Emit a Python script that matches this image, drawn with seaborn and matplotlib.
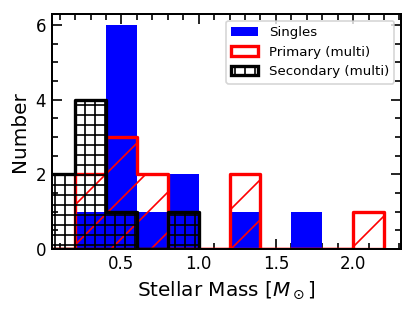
import numpy as np
import matplotlib
matplotlib.use("Agg")
import matplotlib.pyplot as plt
import matplotlib.patches as mpatches
from matplotlib.ticker import MultipleLocator
import seaborn as sns

# histogram bins (stellar mass, solar masses) and counts
mass_bins = [0.0, 0.2, 0.4, 0.6, 0.8, 1.0, 1.2, 1.4, 1.6, 1.8, 2.0, 2.2]
singles_counts = [0, 1, 6, 1, 2, 0, 1, 0, 1, 0, 0]
primary_counts = [0, 2, 3, 2, 0, 0, 2, 0, 0, 0, 1]
secondary_bins = [0.0, 0.2, 0.4, 0.6, 0.8, 1.0]
secondary_counts = [2, 4, 1, 0, 1]

labels = ["Singles", "Primary (multi)", "Secondary (multi)"]


def centers(edges):
    e = np.asarray(edges)
    return (e[:-1] + e[1:]) / 2


sns.set_style("ticks", {"xtick.direction": "in", "ytick.direction": "in",
                        "axes.edgecolor": "black", "text.color": "black",
                        "axes.labelcolor": "black", "xtick.color": "black",
                        "ytick.color": "black"})
plt.rcParams["font.family"] = ["DejaVu Sans"]
plt.rcParams["hatch.linewidth"] = 1.0

fig = plt.figure(figsize=(415 / 120, 311 / 120), dpi=120)
ax = fig.add_axes([0.1253, 0.1994, 0.841, 0.7556])

# singles: plain filled bars
sns.histplot(x=centers(mass_bins), weights=singles_counts, bins=mass_bins,
             element="bars", color="blue", alpha=1, linewidth=0, ax=ax)

# primary: red step outline with diagonal hatch
sns.histplot(x=centers(mass_bins), weights=primary_counts, bins=mass_bins,
             element="step", fill=True, color="red", facecolor="none", edgecolor="red",
             linewidth=2, hatch="/", ax=ax)

# secondary: black step outline with grid hatch
sns.histplot(x=centers(secondary_bins), weights=secondary_counts, bins=secondary_bins,
             element="step", fill=True, color="black", facecolor="none", edgecolor="black",
             linewidth=2, hatch="++", ax=ax)

ax.set_xlim(0.05, 2.31)
ax.set_ylim(0, 6.3)
ax.set_xlabel(r"Stellar Mass [$M_\odot$]", fontsize=12)
ax.set_ylabel("Number", fontsize=12)

ax.xaxis.set_major_locator(MultipleLocator(0.5))
ax.xaxis.set_minor_locator(MultipleLocator(0.1))
ax.yaxis.set_major_locator(MultipleLocator(2))
ax.yaxis.set_minor_locator(MultipleLocator(0.5))
ax.tick_params(which="both", direction="in", top=True, right=True, labelsize=10,
               width=1, colors="black")
ax.tick_params(which="major", length=6)
ax.tick_params(which="minor", length=3.5)
for s in ax.spines.values():
    s.set_linewidth(1.2)
    s.set_color("black")
    s.set_zorder(5)

handles = [
    mpatches.Patch(facecolor="blue", edgecolor="none", label=labels[0]),
    mpatches.Patch(facecolor="white", edgecolor="red", hatch="/", linewidth=2, label=labels[1]),
    mpatches.Patch(facecolor="white", edgecolor="black", hatch="++", linewidth=2, label=labels[2]),
]
ax.legend(handles=handles, loc="upper right", fontsize=8)

fig.savefig("out.png", dpi=120)
